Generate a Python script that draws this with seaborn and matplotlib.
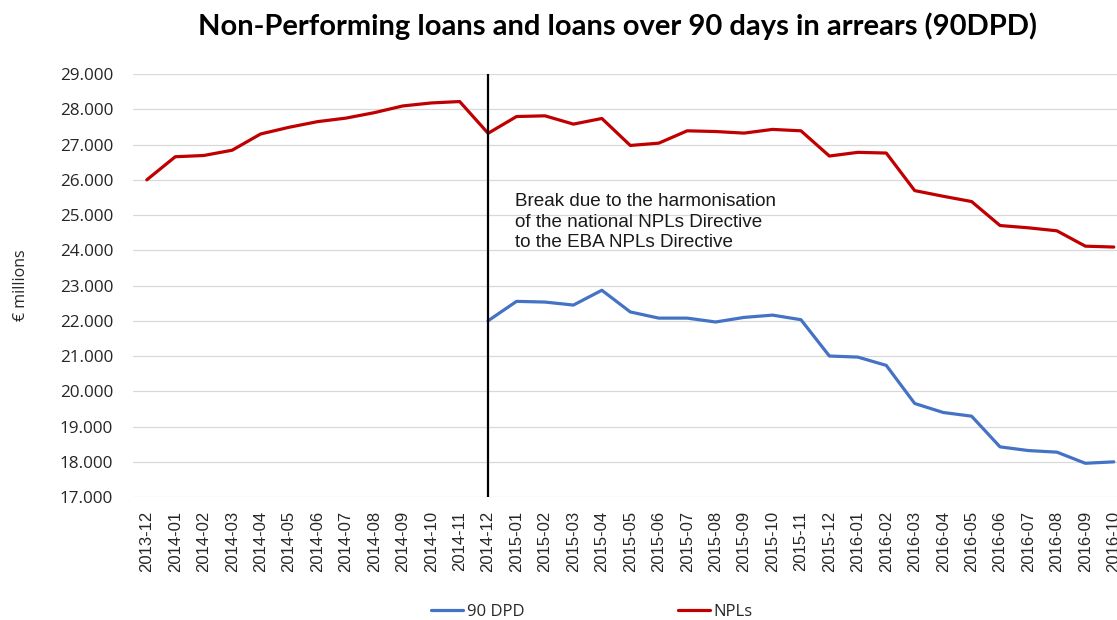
import numpy as np
import pandas as pd
import matplotlib
matplotlib.use("Agg")
import matplotlib.pyplot as plt
from matplotlib.ticker import FuncFormatter
import seaborn as sns

# Monthly categories
months = [
    "2013-12",
    "2014-01", "2014-02", "2014-03", "2014-04", "2014-05", "2014-06",
    "2014-07", "2014-08", "2014-09", "2014-10", "2014-11", "2014-12",
    "2015-01", "2015-02", "2015-03", "2015-04", "2015-05", "2015-06",
    "2015-07", "2015-08", "2015-09", "2015-10", "2015-11", "2015-12",
    "2016-01", "2016-02", "2016-03", "2016-04", "2016-05", "2016-06",
    "2016-07", "2016-08", "2016-09", "2016-10",
]

# Non-performing loans (€ millions)
npl = [
    26000, 26655, 26690, 26840, 27300, 27490, 27650, 27750, 27905, 28095,
    28180, 28220, 27320, 27795, 27815, 27580, 27740, 26975, 27040, 27390,
    27370, 27325, 27430, 27390, 26675, 26780, 26760, 25695, 25535, 25385,
    24705, 24640, 24555, 24120, 24095,
]

# Loans over 90 days past due (€ millions), reported from 2014-12 onwards
dpd = [np.nan] * 12 + [
    22005, 22555, 22535, 22450, 22870, 22255, 22080, 22080, 21970, 22100,
    22165, 22035, 21005, 20975, 20740, 19660, 19405, 19300, 18430, 18325,
    18280, 17965, 18005,
]

series_names = ["90 DPD", "NPLs"]
series_colors = ["#4472C4", "#C00000"]
break_month = "2014-12"
title = "Non-Performing loans and loans over 90 days in arrears (90DPD)"
note = ("Break due to the harmonisation\n"
        "of the national NPLs Directive\n"
        "to the EBA NPLs Directive")

pos = np.arange(len(months))
df = pd.concat([
    pd.DataFrame({"pos": pos, "value": dpd, "series": series_names[0]}),
    pd.DataFrame({"pos": pos, "value": npl, "series": series_names[1]}),
]).dropna()

sns.set_theme(style="white")
plt.rcParams["font.family"] = ["Open Sans", "DejaVu Sans"]

W, H = 1117, 620
fig = plt.figure(figsize=(W / 100, H / 100), dpi=100)
ax = fig.add_axes([132.6 / W, 0.1979, 995.4 / W, 0.6827])

sns.lineplot(
    data=df, x="pos", y="value", hue="series",
    hue_order=series_names, palette=series_colors,
    estimator=None, errorbar=None, linewidth=2.3, ax=ax,
)

ax.set_xlim(-0.5, len(months) - 0.5)
ax.set_ylim(17000, 29000)
ax.set_yticks(np.arange(17000, 29001, 1000))
ax.yaxis.set_major_formatter(FuncFormatter(lambda v, p: f"{v:,.0f}".replace(",", ".")))
ax.set_xticks(pos)
ax.set_xticklabels(months, rotation=90, fontsize=12, color="#262626",
                   family=["Liberation Sans", "DejaVu Sans"])
ax.tick_params(axis="y", labelsize=12.3, labelcolor="#262626", length=0, pad=14)
ax.tick_params(axis="x", length=0, pad=10)
ax.grid(axis="y", color="#D9D9D9", linewidth=0.9)
ax.set_axisbelow(True)
for s in ax.spines.values():
    s.set_visible(False)
ax.set_xlabel("")
ax.set_ylabel("€ millions", fontsize=11.5, color="#262626", labelpad=22)

# Series break marker
bx = months.index(break_month)
ax.axvline(bx, ymin=0, ymax=1, color="black", linewidth=1.6, zorder=3)
ax.text(bx + 0.95, 24800, note, ha="left", va="center", fontsize=13.6,
        linespacing=1.25, color="#1a1a1a",
        family=["Liberation Sans", "DejaVu Sans"])

fig.text(617 / W, 1 - 26 / H, title, ha="center", va="center",
         fontsize=21, fontweight="bold", color="black",
         family=["Lato", "DejaVu Sans"])

handles, labels = ax.get_legend_handles_labels()
ax.legend_.remove()
fig.legend(handles, labels, loc="center", bbox_to_anchor=(592 / W, 1 - 612 / H),
           ncol=2, frameon=False, fontsize=12, handlelength=1.9,
           handletextpad=0.25, columnspacing=9.2, borderpad=0)

fig.savefig("out.png", dpi=100)
